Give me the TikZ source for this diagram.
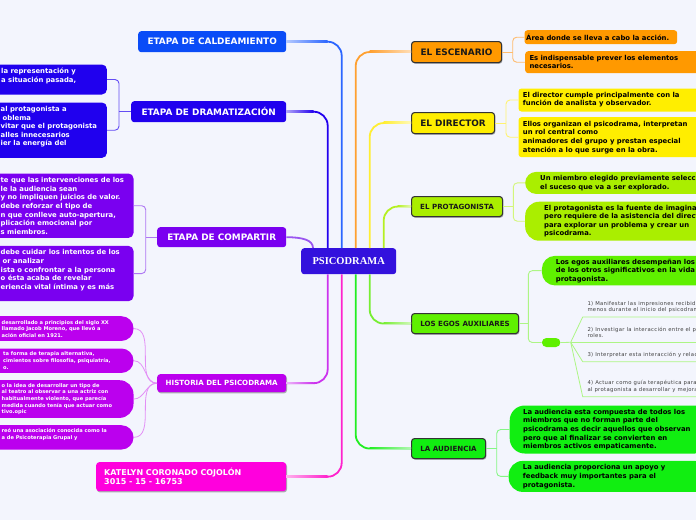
\documentclass[tikz,border=0pt]{standalone}
\usepackage{fontspec}
\setmainfont{DejaVu Sans}
\newfontfamily\serifbf{Liberation Serif}
\newfontfamily\itemfont[LetterSpace=6]{DejaVu Sans}
\usetikzlibrary{shadows,calc}
\definecolor{bgc}{HTML}{F3F5FD}
\definecolor{cenc}{HTML}{3311DD}
\definecolor{caldc}{HTML}{0A4CF7}
\definecolor{dramc}{HTML}{2000EE}
\definecolor{compc}{HTML}{7A00F0}
\definecolor{histc}{HTML}{BB00EE}
\definecolor{katc}{HTML}{FF00DD}
\definecolor{escc}{HTML}{FF9900}
\definecolor{dirc}{HTML}{FFEE00}
\definecolor{protc}{HTML}{AAEE00}
\definecolor{egosc}{HTML}{5FF000}
\definecolor{audc}{HTML}{11EE11}
\definecolor{caldl}{HTML}{2B66FF}
\definecolor{draml}{HTML}{2200EE}
\definecolor{compl}{HTML}{9A55F0}
\definecolor{histl}{HTML}{CC33EE}
\definecolor{katl}{HTML}{FF22CC}
\definecolor{escl}{HTML}{FFA030}
\definecolor{dirl}{HTML}{FFEE33}
\definecolor{protl}{HTML}{B5F022}
\definecolor{egosl}{HTML}{77EE33}
\definecolor{audl}{HTML}{22EE22}
\tikzset{
  cen/.style={anchor=north west, inner sep=0pt, rounded corners=3pt, fill=cenc, text=white,
    font=\serifbf\bfseries\fontsize{10.5}{12}\selectfont},
  mainL/.style={anchor=north west, inner sep=0pt, rounded corners=3pt, text=white,
    font=\bfseries\fontsize{8.9}{10}\selectfont},
  mainR/.style={anchor=north west, inner sep=0pt, rounded corners=3pt, draw=black!80, line width=1.1pt,
    text=black!90, font=\bfseries\fontsize{8.9}{10}\selectfont, sh},
  smallcap/.style={font=\bfseries\fontsize{7.1}{8}\selectfont},
  sh/.style={drop shadow={shadow xshift=0.8pt, shadow yshift=-1.2pt, opacity=0.3, fill=black}},
  cbox/.style={anchor=north west, inner sep=0pt},
  ctxt/.style={anchor=west, inner sep=0pt, align=left, font=\bfseries\fontsize{6.85}{8.6}\selectfont},
  htxt/.style={anchor=west, inner sep=0pt, align=left, text=white, font=\bfseries\fontsize{5.1}{6.6}\selectfont},
  itxt/.style={anchor=south west, inner sep=0pt, align=left, text=black!75, font=\itemfont\fontsize{5.3}{6.3}\selectfont},
  conn/.style={line width=1.8pt, rounded corners=14pt},
  brk/.style={line width=0.9pt, rounded corners=4pt},
}
\begin{document}
\begin{tikzpicture}[x=1pt,y=-1pt]
\fill[bgc] (0,0) rectangle (696,520);
\useasboundingbox (0,0) rectangle (696,520);

% centre
\node[cen, minimum width=95pt, minimum height=26pt] (c) at (301,248) {PSICODRAMA};

% left main branches
\node[mainL, fill=caldc, minimum width=148pt, minimum height=21pt] (cald) at (138,31) {ETAPA DE CALDEAMIENTO};
\node[mainL, fill=dramc, minimum width=155pt, minimum height=21pt] (dram) at (131,101) {ETAPA DE DRAMATIZACIÓN};
\node[mainL, fill=compc, minimum width=129pt, minimum height=20pt] (comp) at (157,227) {ETAPA DE COMPARTIR};
\node[mainL, smallcap, fill=histc, minimum width=129pt, minimum height=18pt, sh] (hist) at (157,374) {HISTORIA DEL PSICODRAMA};
\node[mainL, fill=katc, minimum width=190pt, minimum height=29pt, align=left, text width=174pt,
  inner xsep=8pt, font=\bfseries\fontsize{8}{9}\selectfont, sh] (kat) at (96,462) {KATELYN CORONADO COJOLÓN\\3015 - 15 - 16753};

% right main branches
\node[mainR, fill=escc, minimum width=90pt, minimum height=21pt] (esc) at (411,41) {EL ESCENARIO};
\node[mainR, fill=dirc, minimum width=83pt, minimum height=21pt] (dir) at (411,112) {EL DIRECTOR};
\node[mainR, smallcap, fill=protc, minimum width=91pt, minimum height=20pt] (prot) at (411,196) {EL PROTAGONISTA};
\node[mainR, smallcap, fill=egosc, minimum width=107pt, minimum height=20pt] (egos) at (411,313) {LOS EGOS AUXILIARES};
\node[mainR, smallcap, fill=audc, minimum width=74pt, minimum height=20pt] (aud) at (411,438) {LA AUDIENCIA};

% main connectors
\draw[conn, caldl] ([xshift=40.7pt]c.north west) |- (cald.east);
\draw[conn, draml] ([xshift=26.7pt]c.north west) |- (dram.east);
\draw[line width=1.8pt, compl] (comp.east) .. controls +(16pt,0) and +(0,8pt) .. ([xshift=12pt]c.north west);
\draw[conn, histl] ([xshift=26.7pt]c.south west) |- (hist.east);
\draw[conn, katl] ([xshift=40.7pt]c.south west) |- (kat.east);
\draw[conn, escl] ([xshift=54.7pt]c.north west) |- (esc.west);
\draw[conn, dirl] ([xshift=68.7pt]c.north west) |- (dir.west);
\draw[conn, protl] ([xshift=82.7pt]c.north west) |- (prot.west);
\draw[conn, egosl] ([xshift=68.7pt]c.south west) |- (egos.west);
\draw[conn, audl] ([xshift=54.7pt]c.south west) |- (aud.west);
% lighter tint of the connectors near the branch nodes
\shade[left color=caldl!35, right color=caldl] (286,40.6) rectangle (327.7,42.4);
\shade[left color=draml!35, right color=draml] (286,110.6) rectangle (313.7,112.4);
\shade[left color=histl!35, right color=histl] (286,382.1) rectangle (313.7,383.9);
\shade[left color=katl!35, right color=katl] (286,475.6) rectangle (327.7,477.4);
\shade[right color=escl!35, left color=escl] (369.7,50.6) rectangle (411,52.4);
\shade[right color=dirl!35, left color=dirl] (383.7,121.6) rectangle (411,123.4);
\shade[right color=protl!35, left color=protl] (397.7,205.1) rectangle (411,206.9);
\shade[right color=egosl!35, left color=egosl] (383.7,322.1) rectangle (411,323.9);
\shade[right color=audl!35, left color=audl] (369.7,447.1) rectangle (411,448.9);

% ---- EL ESCENARIO children
\node[cbox, fill=escc, rounded corners=3pt, minimum width=152.7pt, minimum height=14pt] (e1) at (524.3,30) {};
\node[ctxt] (e1t) at (526,37) {Área donde se lleva a cabo la acción.};
\node[cbox, fill=escc, rounded corners=3pt, minimum width=190pt, minimum height=22pt] (e2) at (525,51) {};
\node[ctxt] (e2t) at (529.3,62) {Es indispensable prever los elementos\\necesarios.};
\coordinate (escb) at (512.7,0);
\draw[brk, escl!70] (esc.east) -- (esc.east -| escb);
\draw[brk, escl!70] (e1.west) -| (escb |- esc.east) |- (e2.west);

% ---- EL DIRECTOR children
\node[cbox, fill=dirc, rounded corners=3pt, minimum width=200pt, minimum height=23pt] (d1) at (518.3,88.3) {};
\node[ctxt] (d1t) at (522.7,99.8) {El director cumple principalmente con la\\función de analista y observador.};
\node[cbox, fill=dirc, rounded corners=3pt, minimum width=200pt, minimum height=40pt] (d2) at (518.3,117) {};
\node[ctxt] (d2t) at (522.7,137.3) {Ellos organizan el psicodrama, interpretan\\un rol central como\\animadores del grupo y prestan especial\\atención a lo que surge en la obra.};
\coordinate (dirb) at (506,0);
\draw[brk, dirl!70] (dir.east) -- (dir.east -| dirb);
\draw[brk, dirl!70] (d1.west) -| (dirb |- dir.east) |- (d2.west);

% ---- EL PROTAGONISTA children
\node[cbox, fill=protc, rounded corners=11pt, minimum width=200pt, minimum height=22pt] (p1) at (525,171.7) {};
\node[ctxt] (p1t) at (540,183) {Un miembro elegido previamente selecciona\\el suceso que va a ser explorado.};
\node[cbox, fill=protc, rounded corners=14pt, minimum width=200pt, minimum height=39pt] (p2) at (525,201.5) {};
\node[ctxt] (p2t) at (544,221) {El protagonista es la fuente de imaginación\\pero requiere de la asistencia del director\\para explorar un problema y crear un\\psicodrama.};
\coordinate (protb) at (513.3,0);
\draw[brk, protl!60] (prot.east) -- (prot.east -| protb);
\draw[brk, protl!60] (p1.west) -| (protb |- prot.east) |- (p2.west);

% ---- LOS EGOS AUXILIARES children
\node[cbox, fill=egosc, rounded corners=13pt, minimum width=200pt, minimum height=29.5pt] (g1) at (541.7,255.7) {};
\node[ctxt] (g1t) at (555.7,271) {Los egos auxiliares desempeñan los papeles\\de los otros significativos en la vida del\\protagonista.};
\node[cbox, fill=egosc, rounded corners=4.5pt, minimum width=18.5pt, minimum height=9pt] (pill) at (541.7,337.8) {};
\coordinate (egosb) at (528.3,0);
\draw[brk, egosl!60] (egos.east) -- (egos.east -| egosb);
\draw[brk, egosl!60] (g1.west) -| (egosb |- egos.east) |- (pill.west);
\coordinate (fan) at (570.7,342.3);
\coordinate (u1) at (582.7,317);
\coordinate (u2) at (582.7,342.3);
\coordinate (u3) at (582.7,361.7);
\coordinate (u4) at (582.7,396.7);
\draw[line width=0.8pt, egosl!60] (pill.east) -- (fan);
\foreach \u in {u1,u2,u3,u4}{
  \draw[line width=0.8pt, egosl!60] (fan) -- (\u) -- ([xshift=130pt]\u);
}
\node[itxt] (i1) at ([xshift=4.6pt, yshift=4.3pt]u1) {1) Manifestar las impresiones recibidas, al\\menos durante el inicio del psicodrama.};
\node[itxt] (i2) at ([xshift=4.6pt, yshift=4.3pt]u2) {2) Investigar la interacción entre el protagonista y sus\\roles.};
\node[itxt] (i3) at ([xshift=4.6pt, yshift=4.3pt]u3) {3) Interpretar esta interacción y relación.};
\node[itxt] (i4) at ([xshift=4.6pt, yshift=4.3pt]u4) {4) Actuar como guía terapéutica para ayudar\\al protagonista a desarrollar y mejorar sus roles.};

% ---- LA AUDIENCIA children
\node[cbox, fill=audc, rounded corners=15pt, minimum width=200pt, minimum height=48pt] (a1) at (509.5,405.3) {};
\node[ctxt] (a1t) at (523,429.6) {La audiencia esta compuesta de todos los\\miembros que no forman parte del\\psicodrama es decir aquellos que observan\\pero que al finalizar se convierten en\\miembros activos empaticamente.};
\node[cbox, fill=audc, rounded corners=14pt, minimum width=200pt, minimum height=31pt] (a2) at (508.5,460.7) {};
\node[ctxt] (a2t) at (522.7,476.6) {La audiencia proporciona un apoyo y\\feedback muy importantes para el\\protagonista.};
\coordinate (audb) at (496.7,0);
\draw[brk, audl!55] (aud.east) -- (aud.east -| audb);
\draw[brk, audl!55] (a1.west) -| (audb |- aud.east) |- (a2.west);

% ---- ETAPA DE DRAMATIZACION children
\node[cbox, fill=dramc, rounded corners=5pt, minimum width=126.7pt, minimum height=30pt] (m1) at (-20,64.3) {};
\node[ctxt, text=white] (m1t) at (1,79.6) {la representación y\\a situación pasada,\\~};
\node[cbox, fill=dramc, rounded corners=5pt, minimum width=126.7pt, minimum height=55.4pt] (m2) at (-20,102.3) {};
\node[ctxt, text=white] (m2t) at (0.5,130.4) {al protagonista a\\\hspace{2pt}oblema\\vitar que el protagonista\\alles innecesarios\\ier la energía del\\~};
\coordinate (dramb) at (119,0);
\draw[brk, dramc!70] (dram.west) -- (dram.west -| dramb);
\draw[brk, dramc!70] (m1.east) -| (dramb |- dram.west) |- (m2.east);

% ---- ETAPA DE COMPARTIR children
\node[cbox, fill=compc, rounded corners=5pt, minimum width=153.3pt, minimum height=64.4pt] (k1) at (-20,173.3) {};
\node[ctxt, text=white] (k1t) at (0.5,206) {te que las intervenciones de los\\le la audiencia sean\\y no impliquen juicios de valor.\\debe reforzar el tipo de\\n que conlleve auto-apertura,\\plicación emocional por\\s miembros.};
\node[cbox, fill=compc, rounded corners=5pt, minimum width=153.3pt, minimum height=55.3pt] (k2) at (-20,245.7) {};
\node[ctxt, text=white] (k2t) at (0.5,273.8) {debe cuidar los intentos de los\\\hspace{2pt}or analizar\\ista o confrontar a la persona\\o ésta acaba de revelar\\eriencia vital íntima y es más\\~};
\coordinate (compb) at (145.7,0);
\draw[brk, compl!80] (comp.west) -- (comp.west -| compb);
\draw[brk, compl!80] (k1.east) -| (compb |- comp.west) |- (k2.east);

% ---- HISTORIA children
\node[cbox, fill=histc, rounded corners=12pt, minimum width=153.3pt, minimum height=24.7pt] (h1) at (-20,316) {};
\node[htxt] (h1t) at (1.5,328.7) {desarrollado a principios del siglo XX\\llamado Jacob Moreno, que llevó a\\ación oficial en 1921.};
\node[cbox, fill=histc, rounded corners=12pt, minimum width=153.3pt, minimum height=24.4pt] (h2) at (-20,348.3) {};
\node[htxt] (h2t) at (3,360.6) {ta forma de terapia alternativa,\\cimientos sobre filosofía, psiquiatría,\\o.};
\node[cbox, fill=histc, rounded corners=14pt, minimum width=153.3pt, minimum height=37.7pt] (h3) at (-20,380) {};
\node[htxt] (h3t) at (1.5,399) {o la idea de desarrollar un tipo de\\al teatro al observar a una actriz con\\habitualmente violento, que parecía\\medida cuando tenía que actuar como\\tivo.opic};
\node[cbox, fill=histc, rounded corners=12pt, minimum width=153.3pt, minimum height=24.3pt] (h4) at (-20,425) {};
\node[htxt] (h4t) at (1.5,437.3) {reó una asociación conocida como la\\a de Psicoterapia Grupal y\\~};
\foreach \h in {h1,h2,h3,h4}{
  \draw[line width=0.8pt, histl!55] (hist.west) to[out=180, in=0] (\h.east);
}
\end{tikzpicture}
\end{document}
